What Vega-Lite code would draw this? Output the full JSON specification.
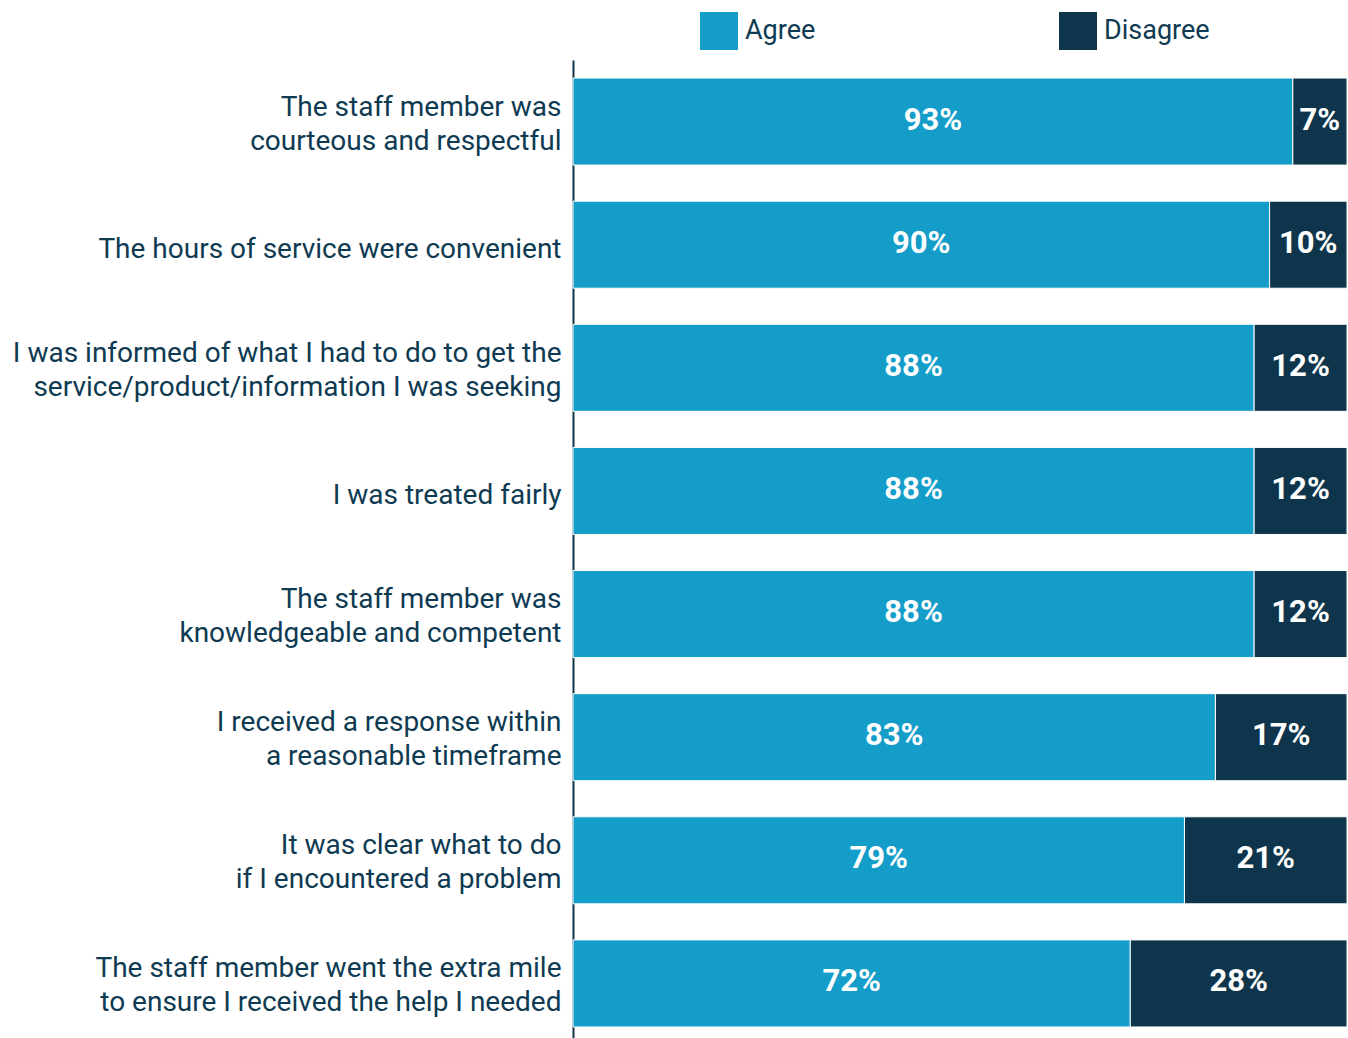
{
  "$schema": "https://vega.github.io/schema/vega-lite/v6.json",
  "width": 774,
  "height": 985,
  "autosize": {"type": "none"},
  "padding": {"left": 573, "top": 60, "right": 1, "bottom": 0},
  "background": "white",
  "config": {"view": {"stroke": null}, "font": "Roboto"},
  "data": {"values": [
    {"q": "The staff member was|courteous and respectful", "resp": "Agree", "pct": 93},
    {"q": "The staff member was|courteous and respectful", "resp": "Disagree", "pct": 7},
    {"q": "The hours of service were convenient", "resp": "Agree", "pct": 90},
    {"q": "The hours of service were convenient", "resp": "Disagree", "pct": 10},
    {"q": "I was informed of what I had to do to get the|service/product/information I was seeking", "resp": "Agree", "pct": 88},
    {"q": "I was informed of what I had to do to get the|service/product/information I was seeking", "resp": "Disagree", "pct": 12},
    {"q": "I was treated fairly", "resp": "Agree", "pct": 88},
    {"q": "I was treated fairly", "resp": "Disagree", "pct": 12},
    {"q": "The staff member was|knowledgeable and competent", "resp": "Agree", "pct": 88},
    {"q": "The staff member was|knowledgeable and competent", "resp": "Disagree", "pct": 12},
    {"q": "I received a response within|a reasonable timeframe", "resp": "Agree", "pct": 83},
    {"q": "I received a response within|a reasonable timeframe", "resp": "Disagree", "pct": 17},
    {"q": "It was clear what to do|if I encountered a problem", "resp": "Agree", "pct": 79},
    {"q": "It was clear what to do|if I encountered a problem", "resp": "Disagree", "pct": 21},
    {"q": "The staff member went the extra mile|to ensure I received the help I needed", "resp": "Agree", "pct": 72},
    {"q": "The staff member went the extra mile|to ensure I received the help I needed", "resp": "Disagree", "pct": 28}
  ]},
  "transform": [
    {"stack": "pct", "groupby": ["q"], "sort": [{"field": "resp", "order": "ascending"}], "as": ["x0", "x1"]},
    {"calculate": "(datum.x0 + datum.x1) / 2", "as": "mid"},
    {"calculate": "datum.pct + '%'", "as": "label"}
  ],
  "encoding": {
    "y": {
      "field": "q", "type": "nominal", "sort": null,
      "scale": {"paddingInner": 0.293, "paddingOuter": 0.1465},
      "axis": {
        "title": null,
        "labelExpr": "split(datum.value, '|')",
        "labelFont": "Roboto",
        "labelFontSize": 28,
        "labelLineHeight": 34,
        "labelColor": "#0E3A52",
        "labelPadding": 12,
        "labelLimit": 600,
        "labelOffset": {"condition": {"test": "indexof(datum.value, '|') >= 0", "value": -14}, "value": 5},
        "ticks": false,
        "domainColor": "#0E354B",
        "domainWidth": 2
      }
    }
  },
  "layer": [
    {
      "mark": {"type": "bar", "stroke": "white", "strokeWidth": 1},
      "encoding": {
        "x": {"field": "x0", "type": "quantitative", "scale": {"domain": [0, 100], "nice": false}, "axis": null},
        "x2": {"field": "x1"},
        "color": {
          "field": "resp", "type": "nominal",
          "scale": {"domain": ["Agree", "Disagree"], "range": ["#149DC9", "#0E354B"]},
          "legend": {
            "title": null,
            "orient": "none",
            "direction": "horizontal",
            "legendX": 127,
            "legendY": -48,
            "symbolType": "square",
            "symbolSize": 1444,
            "symbolStrokeWidth": 0,
            "symbolOpacity": 1,
            "labelFont": "Roboto",
            "labelFontSize": 27,
            "labelColor": "#0E3A52",
            "labelOffset": 7,
            "columnPadding": 243
          }
        }
      }
    },
    {
      "mark": {"type": "text", "color": "white", "font": "Roboto", "fontWeight": "bold", "fontSize": 31, "baseline": "middle", "align": "center", "dy": -1},
      "encoding": {
        "x": {"field": "mid", "type": "quantitative"},
        "text": {"field": "label", "type": "nominal"}
      }
    }
  ]
}
